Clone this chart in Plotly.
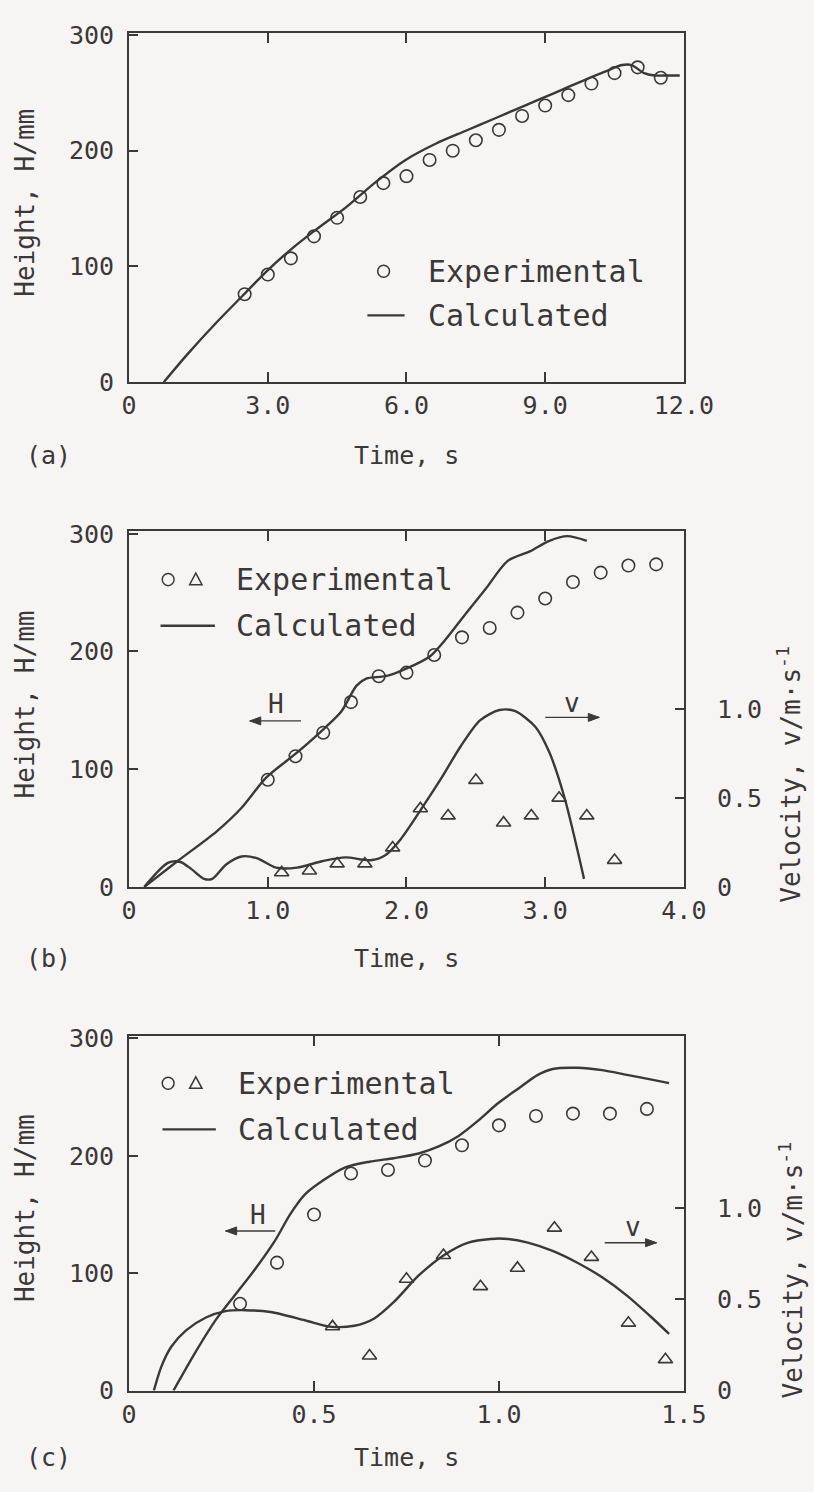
import plotly.graph_objects as go

# ---------------- data ----------------
# Panel (a)
a_exp_t = [2.5, 3.0, 3.5, 4.0, 4.5, 5.0, 5.5, 6.0, 6.5, 7.0, 7.5, 8.0, 8.5, 9.0, 9.5, 10.0, 10.5, 11.0, 11.5]
a_exp_h = [76, 93, 107, 126, 142, 160, 172, 178, 192, 200, 209, 218, 230, 239, 248, 258, 267, 272, 263]
a_calc_t = [0.75, 1.26, 1.9, 2.44, 2.98, 3.51, 4.05, 4.69, 5.34, 5.98, 6.63, 7.27, 7.92, 8.56, 9.21,
            9.85, 10.28, 10.66, 10.87, 11.14, 11.36, 11.68, 11.91]
a_calc_h = [0, 24, 52, 74, 96, 115, 132, 151, 173, 192, 206, 217, 228, 239, 250,
            261, 268, 274, 274, 267, 265, 265, 265]

# Panel (b)
b_exp_t = [1.0, 1.2, 1.4, 1.6, 1.8, 2.0, 2.2, 2.4, 2.6, 2.8, 3.0, 3.2, 3.4, 3.6, 3.8]
b_exp_h = [91, 111, 131, 157, 179, 182, 197, 212, 220, 233, 245, 259, 267, 273, 274]
b_calc_t = [0.11, 0.35, 0.63, 0.81, 0.99, 1.21, 1.42, 1.53, 1.64, 1.71, 1.85, 1.99, 2.17, 2.28,
            2.42, 2.57, 2.73, 2.89, 3.03, 3.16, 3.30]
b_calc_h = [0, 22, 47, 67, 93, 114, 136, 149, 171, 177, 179, 185, 196, 210,
            231, 253, 277, 285, 294, 298, 294]
b_vexp_t = [1.1, 1.3, 1.5, 1.7, 1.9, 2.1, 2.3, 2.5, 2.7, 2.9, 3.1, 3.3, 3.5]
b_vexp_v = [0.08, 0.09, 0.13, 0.13, 0.22, 0.44, 0.40, 0.60, 0.36, 0.40, 0.50, 0.40, 0.15]
b_vcalc_t = [0.11, 0.28, 0.37, 0.45, 0.54, 0.60, 0.70, 0.81, 0.92, 1.06, 1.21, 1.39, 1.56, 1.74,
             1.85, 1.96, 2.10, 2.25, 2.39, 2.53, 2.67, 2.78, 2.93, 3.03, 3.14, 3.28]
b_vcalc_v = [0, 0.135, 0.14, 0.10, 0.045, 0.045, 0.126, 0.171, 0.162, 0.108, 0.108, 0.144, 0.166, 0.15,
             0.18, 0.27, 0.43, 0.61, 0.79, 0.937, 0.995, 0.99, 0.90, 0.757, 0.50, 0.045]

# Panel (c)
c_exp_t = [0.3, 0.4, 0.5, 0.6, 0.7, 0.8, 0.9, 1.0, 1.1, 1.2, 1.3, 1.4]
c_exp_h = [74, 109, 150, 185, 188, 196, 209, 226, 234, 236, 236, 240]
c_calc_t = [0.12, 0.18, 0.234, 0.288, 0.342, 0.395, 0.435, 0.475, 0.529, 0.583, 0.65, 0.716, 0.783,
            0.837, 0.891, 0.944, 0.998, 1.051, 1.105, 1.145, 1.212, 1.279, 1.346, 1.413, 1.46]
c_calc_h = [0, 33, 60, 82, 104, 128, 150, 167, 180, 190, 195, 198, 202,
            208, 217, 230, 245, 257, 269, 274, 275, 273, 269, 265, 262]
c_vexp_t = [0.55, 0.65, 0.75, 0.85, 0.95, 1.05, 1.15, 1.25, 1.35, 1.45]
c_vexp_v = [0.35, 0.19, 0.61, 0.74, 0.57, 0.67, 0.89, 0.73, 0.37, 0.17]
c_vcalc_t = [0.067, 0.087, 0.114, 0.154, 0.208, 0.261, 0.315, 0.382, 0.475, 0.542, 0.609, 0.663, 0.716,
             0.783, 0.85, 0.917, 0.978, 1.024, 1.078, 1.145, 1.212, 1.279, 1.346, 1.413, 1.46]
c_vcalc_v = [0, 0.13, 0.24, 0.33, 0.40, 0.435, 0.44, 0.43, 0.385, 0.35, 0.355, 0.395, 0.485,
             0.63, 0.74, 0.81, 0.83, 0.83, 0.81, 0.765, 0.70, 0.62, 0.52, 0.40, 0.31]

# ticks
h_ticks = [0, 100, 200, 300]
h_ticktext = ["0", "100", "200", "300"]
a_xticks = [0, 3, 6, 9, 12]
a_xticktext = ["0", "3.0", "6.0", "9.0", "12.0"]
b_xticks = [0, 1, 2, 3, 4]
b_xticktext = ["0", "1.0", "2.0", "3.0", "4.0"]
c_xticks = [0, 0.5, 1.0, 1.5]
c_xticktext = ["0", "0.5", "1.0", "1.5"]
v_ticks = [0, 0.5, 1.0]
v_ticktext = ["0", "0.5", "1.0"]

# ---------------- style ----------------
W, H = 814, 1492
INK = "#3b3838"
BG = "#f7f5f4"
FONT = "DejaVu Sans Mono"


def px(x):
    return x / W


def py(y):
    return 1 - y / H


XDOM = [px(127), px(709)]
DOM_A = [py(377), py(21)]
DOM_B = [py(891), py(529)]
DOM_C = [py(1404), py(1043)]

fig = go.Figure()

line_style = dict(color=INK, width=2.4, shape="spline", smoothing=0.8)
circ = dict(symbol="circle-open", size=12.5, color=INK, line=dict(width=1.6, color=INK))
tri = dict(symbol="triangle-up-open", size=12.5, color=INK, line=dict(width=1.6, color=INK))

# (a)
fig.add_trace(go.Scatter(x=a_calc_t, y=a_calc_h, mode="lines", line=line_style, xaxis="x", yaxis="y"))
fig.add_trace(go.Scatter(x=a_exp_t, y=a_exp_h, mode="markers", marker=circ, xaxis="x", yaxis="y"))
# (b)
fig.add_trace(go.Scatter(x=b_calc_t, y=b_calc_h, mode="lines", line=line_style, xaxis="x2", yaxis="y2"))
fig.add_trace(go.Scatter(x=b_exp_t, y=b_exp_h, mode="markers", marker=circ, xaxis="x2", yaxis="y2"))
fig.add_trace(go.Scatter(x=b_vcalc_t, y=b_vcalc_v, mode="lines", line=line_style, xaxis="x2", yaxis="y3"))
fig.add_trace(go.Scatter(x=b_vexp_t, y=b_vexp_v, mode="markers", marker=tri, xaxis="x2", yaxis="y3"))
# (c)
fig.add_trace(go.Scatter(x=c_calc_t, y=c_calc_h, mode="lines", line=line_style, xaxis="x3", yaxis="y4"))
fig.add_trace(go.Scatter(x=c_exp_t, y=c_exp_h, mode="markers", marker=circ, xaxis="x3", yaxis="y4"))
fig.add_trace(go.Scatter(x=c_vcalc_t, y=c_vcalc_v, mode="lines", line=line_style, xaxis="x3", yaxis="y5"))
fig.add_trace(go.Scatter(x=c_vexp_t, y=c_vexp_v, mode="markers", marker=tri, xaxis="x3", yaxis="y5"))

tickfont = dict(family=FONT, size=25, color=INK)


def xax(rng, vals, text, anchor):
    return dict(domain=XDOM, range=rng, tickvals=vals, ticktext=text, anchor=anchor,
                showline=True, linecolor=INK, linewidth=2, mirror="ticks",
                ticks="inside", ticklen=10, tickwidth=1.6, tickcolor=INK,
                showgrid=False, zeroline=False, tickfont=tickfont, ticklabelstandoff=0,
                fixedrange=True)


def yax(dom, anchor):
    return dict(domain=dom, range=[0, 302], tickvals=h_ticks, ticktext=h_ticktext, anchor=anchor,
                showline=True, linecolor=INK, linewidth=2, mirror=True,
                ticks="inside", ticklen=9, tickwidth=1.6, tickcolor=INK,
                showgrid=False, zeroline=False, tickfont=tickfont, ticklabelstandoff=8,
                fixedrange=True)


def vax(over, anchor, top):
    return dict(overlaying=over, anchor=anchor, side="right", range=[0, top],
                tickvals=v_ticks, ticktext=v_ticktext, showline=False,
                ticks="inside", ticklen=9, tickwidth=1.6, tickcolor=INK,
                showgrid=False, zeroline=False, tickfont=tickfont, ticklabelstandoff=32,
                fixedrange=True)


annotations = []
shapes = []


def text(x, y, s, size=25, xanchor="center", angle=0):
    annotations.append(dict(x=px(x), y=py(y), xref="paper", yref="paper", text=s,
                            showarrow=False, xanchor=xanchor, yanchor="middle", textangle=angle,
                            font=dict(family=FONT, size=size, color=INK)))


def arrow(xr, yr, x_head, x_tail, yv, label, lx, ly):
    # shaft
    shapes.append(dict(type="line", xref=xr, yref=yr, x0=x_tail, x1=x_head, y0=yv, y1=yv,
                       line=dict(color=INK, width=1.4)))
    # head (pixel-sized, anchored at the head point)
    d = -1 if x_head < x_tail else 1
    path = "M 0 0 L {} 4 L {} -4 Z".format(-d * 11, -d * 11)
    shapes.append(dict(type="path", xref=xr, yref=yr, xsizemode="pixel", ysizemode="pixel",
                       xanchor=x_head, yanchor=yv, path=path, fillcolor=INK,
                       line=dict(color=INK, width=1)))
    annotations.append(dict(x=lx, y=ly, xref=xr, yref=yr, text=label, showarrow=False,
                            font=dict(family=FONT, size=26, color=INK)))


def circle_glyph(cx, cy, r=6.2):
    shapes.append(dict(type="circle", xref="paper", yref="paper",
                       x0=px(cx - r), x1=px(cx + r), y0=py(cy + r), y1=py(cy - r),
                       line=dict(color=INK, width=1.5)))


def tri_glyph(cx, cy, r=6.5):
    path = "M {} {} L {} {} L {} {} Z".format(px(cx - r), py(cy + r * 0.8), px(cx + r), py(cy + r * 0.8),
                                              px(cx), py(cy - r))
    shapes.append(dict(type="path", xref="paper", yref="paper", path=path,
                       line=dict(color=INK, width=1.5)))


def line_glyph(x0, x1, y):
    shapes.append(dict(type="line", xref="paper", yref="paper", x0=px(x0), x1=px(x1), y0=py(y), y1=py(y),
                       line=dict(color=INK, width=2.4)))


# legends
LEG = 30
circle_glyph(394, 264)
text(438, 264, "Experimental", size=LEG, xanchor="left")
line_glyph(377, 416, 309)
text(438, 309, "Calculated", size=LEG, xanchor="left")

circle_glyph(168, 578)
tri_glyph(197, 578)
text(237, 578, "Experimental", size=LEG, xanchor="left")
line_glyph(160, 217, 625)
text(237, 625, "Calculated", size=LEG, xanchor="left")

circle_glyph(168, 1091)
tri_glyph(197, 1091)
text(239, 1091, "Experimental", size=LEG, xanchor="left")
line_glyph(162, 218, 1138)
text(239, 1138, "Calculated", size=LEG, xanchor="left")

# axis titles / panel labels
for yc_title, yc_lab, lab in [(194, 452, "(a)"), (705, 964, "(b)"), (1218, 1472, "(c)")]:
    text(18, yc_title, "Height, H/mm", size=26, angle=-90)
    text(43, yc_lab, lab, size=25)
    text(418, yc_lab, "Time, s", size=25)

text(819, 776, "Velocity, v/m·s<sup>-1</sup>", size=26, angle=-90)
text(821, 1281, "Velocity, v/m·s<sup>-1</sup>", size=26, angle=-90)

# H / v arrows
arrow("x2", "y2", 0.87, 1.24, 141, "H", 1.06, 155)
arrow("x2", "y2", 3.39, 3.00, 144, "v", 3.19, 156)
arrow("x3", "y4", 0.261, 0.395, 136, "H", 0.348, 150)
arrow("x3", "y4", 1.426, 1.286, 126, "v", 1.362, 139)

fig.update_layout(
    width=W, height=H, autosize=False,
    margin=dict(l=0, r=0, t=0, b=0),
    paper_bgcolor=BG, plot_bgcolor=BG,
    showlegend=False,
    xaxis=xax([0, 12], a_xticks, a_xticktext, "y"),
    yaxis=yax(DOM_A, "x"),
    xaxis2=xax([0, 4], b_xticks, b_xticktext, "y2"),
    yaxis2=yax(DOM_B, "x2"),
    yaxis3=vax("y2", "x2", 2.0),
    xaxis3=xax([0, 1.5], c_xticks, c_xticktext, "y4"),
    yaxis4=yax(DOM_C, "x3"),
    yaxis5=vax("y4", "x3", 1.94),
    annotations=annotations,
    shapes=shapes,
)

fig.write_html("out.html", config={"displayModeBar": False})
